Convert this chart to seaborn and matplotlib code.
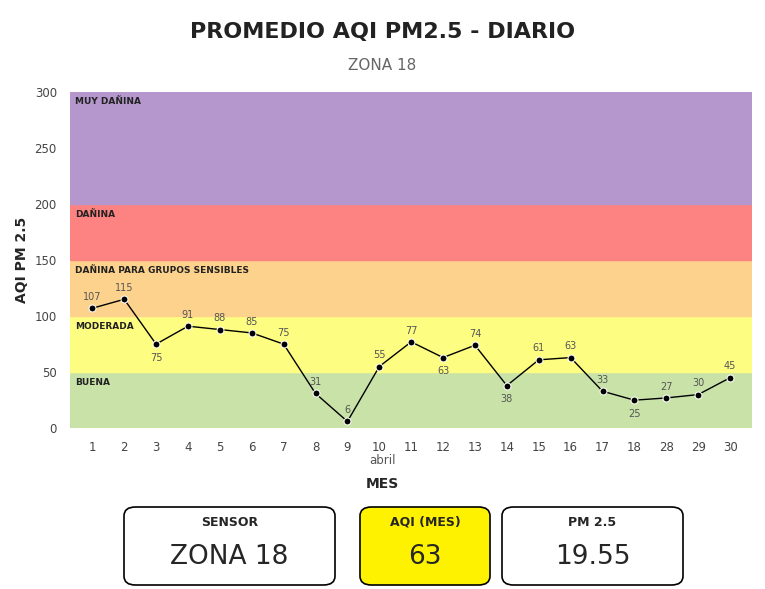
import matplotlib
matplotlib.use("Agg")
import matplotlib.pyplot as plt
import seaborn as sns
import pandas as pd
from matplotlib.patches import FancyBboxPatch

days = ["1","2","3","4","5","6","7","8","9","10","11","12","13","14","15","16","17","18","28","29","30"]
aqi = [107,115,75,91,88,85,75,31,6,55,77,63,74,38,61,63,33,25,27,30,45]
label_below = [False,False,True,False,False,False,False,False,False,False,False,True,False,True,False,False,False,True,False,False,False]
bands = [(0,50,"#c8e2a8","BUENA"),(50,100,"#fdfd82","MODERADA"),(100,150,"#fdd28c","DAÑINA PARA GRUPOS SENSIBLES"),
         (150,200,"#fd8282","DAÑINA"),(200,300,"#b597ce","MUY DAÑINA")]

sns.set_theme(style="white")
plt.rcParams['font.family'] = ['DejaVu Sans']
fig = plt.figure(figsize=(7.65,5.89), dpi=100)
ax = fig.add_axes([0.0915,0.273,0.892,0.571])
df = pd.DataFrame({"dia":days,"aqi":aqi})
n = len(days)
for lo,hi,c,name in bands:
    ax.axhspan(lo,hi,color=c,zorder=0)
    ax.text(-0.55,hi-5,name,fontsize=6.5,fontweight="bold",va="top",ha="left",color="#222")
sns.lineplot(data=df,x="dia",y="aqi",ax=ax,color="black",marker="o",markersize=5,linewidth=1,sort=False,zorder=3)
for i,(v,b) in enumerate(zip(aqi,label_below)):
    ax.annotate(str(v),(i,v),xytext=(0,-12 if b else 6),textcoords="offset points",ha="center",fontsize=7,color="#555")
ax.set_xlim(-0.7,n-0.3)
ax.set_ylim(0,300)
ax.set_yticks([0,50,100,150,200,250,300])
ax.tick_params(labelsize=8.5,colors="#444")
ax.set_ylabel("AQI PM 2.5",fontsize=10,fontweight="bold")
ax.set_xlabel("")
for s in ax.spines.values(): s.set_visible(False)
fig.text(0.5,1-460/589,"abril",ha="center",va="center",fontsize=8.5,color="#555")
fig.text(0.5,1-484/589,"MES",ha="center",va="center",fontsize=10,fontweight="bold")
fig.text(0.5,1-32/589,"PROMEDIO AQI PM2.5 - DIARIO",ha="center",va="center",fontsize=16,fontweight="bold",color="#222")
fig.text(0.5,1-66/589,"ZONA 18",ha="center",va="center",fontsize=11,color="#666")

W,H=765,589
def box(x0,x1,y0,y1,fc,title,val,vs):
    p=FancyBboxPatch((x0/W,1-y1/H),(x1-x0)/W,(y1-y0)/H,boxstyle="round,pad=0,rounding_size=0.015",
                     transform=fig.transFigure,facecolor=fc,edgecolor="black",linewidth=1.2)
    fig.patches.append(p)
    cx=(x0+x1)/2/W
    fig.text(cx,1-522/H,title,ha="center",va="center",fontsize=9,fontweight="bold")
    fig.text(cx,1-557/H,val,ha="center",va="center",fontsize=vs)
box(124,335,507,585,"white","SENSOR","ZONA 18",19)
box(360,490,507,585,"#fff200","AQI (MES)","63",19)
box(502,683,507,585,"white","PM 2.5","19.55",19)
fig.savefig("out.png",dpi=100)
